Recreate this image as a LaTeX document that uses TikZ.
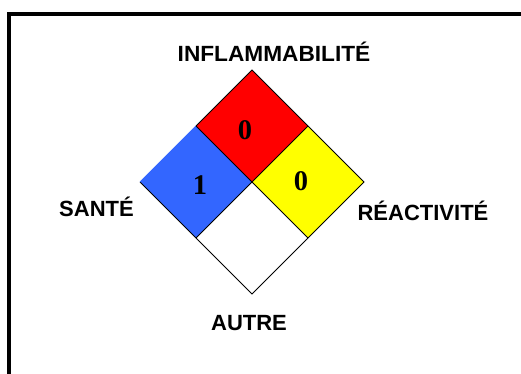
\documentclass[tikz,border=0pt]{standalone}
\usepackage{fontspec}
\setmainfont{Liberation Sans}
\newfontfamily\digitfont{Liberation Serif}
\usetikzlibrary{calc}
\definecolor{healthblue}{RGB}{51,102,255}
\definecolor{flamred}{RGB}{255,0,0}
\definecolor{reactyellow}{RGB}{255,255,0}

\begin{document}
\begin{tikzpicture}[x=1pt,y=-1pt,
  lbl/.style={font=\fontsize{22}{24}\selectfont\bfseries, anchor=base, inner sep=0pt},
  rating/.style={font=\digitfont\fontsize{28.5}{30}\selectfont\bfseries, inner sep=0pt}]
  \useasboundingbox (0,0) rectangle (521,374);

  % frame
  \draw[line width=4pt] (9,376) -- (9,14.5) -- (523,14.5);

  % diamond corners
  \coordinate (c) at (252,182);
  \coordinate (t) at (252,70);
  \coordinate (l) at (140,182);
  \coordinate (r) at (364,182);
  \coordinate (b) at (252,294);
  \coordinate (tl) at ($(t)!0.5!(l)$);
  \coordinate (tr) at ($(t)!0.5!(r)$);
  \coordinate (bl) at ($(b)!0.5!(l)$);
  \coordinate (br) at ($(b)!0.5!(r)$);

  % colour fields
  \fill[flamred] (t) -- (tr) -- (c) -- (tl) -- cycle;
  \fill[healthblue] (l) -- (tl) -- (c) -- (bl) -- cycle;
  \fill[reactyellow] (r) -- (tr) -- (c) -- (br) -- cycle;
  \fill[white] (b) -- (bl) -- (c) -- (br) -- cycle;

  % outlines
  \draw[line width=0.8pt] (tl) -- (t) -- (r) -- (b) -- (l);
  \draw[line width=0.8pt, healthblue] (l) -- (tl);
  \draw[line width=0.8pt] (tl) -- (br);
  \draw[line width=0.8pt] (tr) -- (bl);

  % ratings
  \node[rating] (flam) at (245,130) {0};
  \node[rating] (health) at (200,185.5) {1};
  \node[rating] (react) at (301,181.5) {0};

  % letters
  \node[lbl, xscale=1.03] (flamlbl) at (274,61.7) {INFLAMMABILITÉ};
  \node[lbl] (healthlbl) at (96.5,216.7) {SANTÉ};
  \node[lbl] (reactlbl) at (423,220) {RÉACTIVITÉ};
  \node[lbl] (otherlbl) at (249,330.7) {AUTRE};
\end{tikzpicture}
\end{document}
